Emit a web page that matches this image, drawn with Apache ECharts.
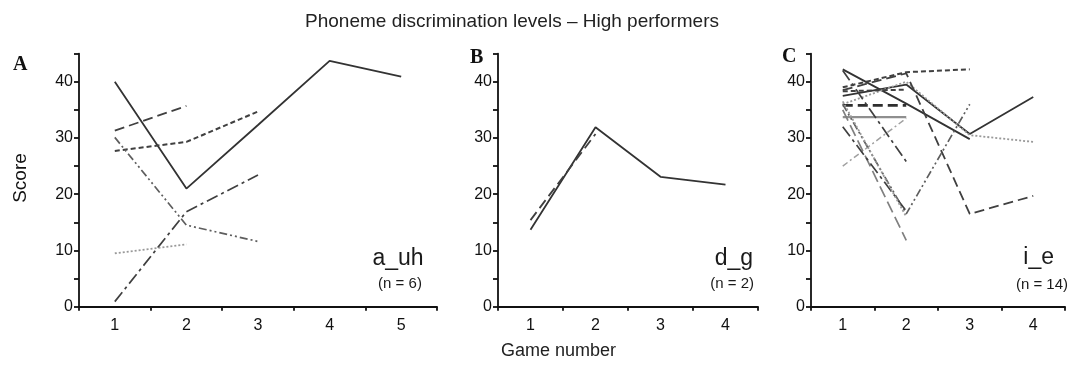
<!DOCTYPE html>
<html>
<head>
<meta charset="utf-8">
<script src="https://cdn.jsdelivr.net/npm/echarts@6/dist/echarts.min.js"></script>
<style>html,body{margin:0;padding:0;background:#fff}#c{width:1071px;height:366px}</style>
</head>
<body>
<div id="c"></div>
<script>
// ---- Data ----
const catsA = ['1', '2', '3', '4', '5'];
const catsB = ['1', '2', '3', '4'];
const catsC = ['1', '2', '3', '4'];
const yTicks = [0, 10, 20, 30, 40];

// Panel A: a_uh (n = 6)
const a_solid     = [40.0, 21.0, 32.3, 43.7, 40.9];
const a_longDash  = [31.3, 35.7, null, null, null];
const a_shortDash = [27.7, 29.3, 34.7, null, null];
const a_dashDotDot= [30.1, 14.5, 11.6, null, null];
const a_dashDot   = [0.9, 16.9, 23.4, null, null];
const a_dotted    = [9.5, 11.1, null, null, null];

// Panel B: d_g (n = 2)
const b_solid  = [13.7, 31.9, 23.1, 21.7];
const b_dashed = [15.4, 30.7, null, null];

// Panel C: i_e (n = 14)
const c_solid1     = [42.2, 36.1, 29.8, null];
const c_solid2     = [37.5, 39.5, 30.7, 37.3];
const c_dottedLong = [36.0, 40.0, 30.5, 29.3];
const c_shortDash  = [39.0, 41.7, 42.2, null];
const c_thickDash  = [35.8, 35.8, null, null];
const c_solidGray  = [33.7, 33.7, null, null];
const c_dashDotUp  = [25.0, 33.5, null, null];
const c_longDash4  = [38.5, 41.5, 16.5, 19.7];
const c_dashDot26  = [42.0, 25.8, null, null];
const c_dashDotDot = [36.0, 16.5, 36.0, null];
const c_longGray   = [35.0, 11.8, null, null];
const c_dash17     = [32.0, 17.0, null, null];
const c_dotted16   = [36.5, 16.0, null, null];
const c_dash385    = [38.3, 38.6, null, null];

// ---- Styles ----
const ST = {
  solid:     {type: 'solid', color: '#333333', width: 1.8},
  solidGray: {type: 'solid', color: '#8f8f8f', width: 2.2},
  longDash:  {type: [10, 5], color: '#404040', width: 1.8},
  thickDash: {type: [10, 5], color: '#2e2e2e', width: 2.8},
  shortDash: {type: [5, 3], color: '#404040', width: 2},
  dashDotDot:{type: [8, 3, 2, 3, 2, 3], color: '#5e5e5e', width: 1.7},
  dashDot:   {type: [12, 4, 3, 4], color: '#404040', width: 1.7},
  dotted:    {type: [2, 2], color: '#999999', width: 1.8},
  grayDash:  {type: [12, 5], color: '#808080', width: 1.7},
  grayDashDot:{type: [6, 3, 2, 3], color: '#a0a0a0', width: 1.5}
};

function ser(idx, data, st) {
  return {
    type: 'line', xAxisIndex: idx, yAxisIndex: idx, data: data,
    symbol: 'none', connectNulls: false, silent: true, animation: false,
    lineStyle: Object.assign({}, st)
  };
}

const grids = [
  {left: 79, top: 53.6, width: 358, height: 253.1},
  {left: 498, top: 53.6, width: 260, height: 253.1},
  {left: 811, top: 53.6, width: 254, height: 253.1}
];
const cats = [catsA, catsB, catsC];

const sans = 'Liberation Sans, Arial, sans-serif';
const serif = 'Liberation Serif, Times New Roman, serif';
const axisLineStyle = {color: '#111', width: 1.8};
const xAxes = cats.map((c, i) => ({
  type: 'category', gridIndex: i, data: c, boundaryGap: true,
  axisLine: {lineStyle: axisLineStyle},
  axisTick: {show: true, length: 4, lineStyle: axisLineStyle},
  axisLabel: {color: '#111', fontSize: 16, fontFamily: sans, margin: 11},
  splitLine: {show: false}
}));
const yAxes = cats.map((c, i) => ({
  type: 'value', gridIndex: i, min: 0, max: 45, interval: 5,
  axisLine: {show: true, lineStyle: axisLineStyle},
  axisTick: {show: true, length: 5, lineStyle: axisLineStyle},
  axisLabel: {
    color: '#111', fontSize: 16, fontFamily: sans, margin: 6,
    formatter: v => (yTicks.indexOf(v) >= 0 ? String(v) : '')
  },
  splitLine: {show: false}
}));

const series = [
  ser(0, a_solid, ST.solid),
  ser(0, a_longDash, ST.longDash),
  ser(0, a_shortDash, ST.shortDash),
  ser(0, a_dashDotDot, ST.dashDotDot),
  ser(0, a_dashDot, ST.dashDot),
  ser(0, a_dotted, ST.dotted),

  ser(1, b_solid, ST.solid),
  ser(1, b_dashed, ST.longDash),

  ser(2, c_solid1, ST.solid),
  ser(2, c_solid2, ST.solid),
  ser(2, c_dottedLong, ST.dotted),
  ser(2, c_shortDash, ST.shortDash),
  ser(2, c_thickDash, ST.thickDash),
  ser(2, c_solidGray, ST.solidGray),
  ser(2, c_dashDotUp, ST.grayDashDot),
  ser(2, c_longDash4, ST.longDash),
  ser(2, c_dashDot26, ST.dashDot),
  ser(2, c_dashDotDot, ST.dashDotDot),
  ser(2, c_longGray, ST.grayDash),
  ser(2, c_dash17, ST.dashDot),
  ser(2, c_dotted16, ST.dotted),
  ser(2, c_dash385, ST.shortDash)
];

function txt(x, y, t, size, opts) {
  return {
    type: 'text', x: x, y: y, silent: true,
    style: Object.assign({text: t, fontSize: size, fontFamily: sans, fill: '#1a1a1a',
      textAlign: 'left', textVerticalAlign: 'middle'}, opts || {})
  };
}

const graphics = [
  txt(512, 22, 'Phoneme discrimination levels \u2013 High performers', 19, {textAlign: 'center', fill: '#222'}),
  txt(21, 178, 'Score', 19, {textAlign: 'center', fill: '#111'}),
  txt(501, 351, 'Game number', 18, {fill: '#222'}),
  txt(13, 65, 'A', 20, {fontFamily: serif, fontWeight: 'bold', fill: '#111'}),
  txt(470, 58, 'B', 20, {fontFamily: serif, fontWeight: 'bold', fill: '#111'}),
  txt(782, 57, 'C', 20, {fontFamily: serif, fontWeight: 'bold', fill: '#111'}),
  txt(398, 259, 'a_uh', 23, {textAlign: 'center'}),
  txt(400, 284, '(n = 6)', 15, {textAlign: 'center'}),
  txt(753, 259, 'd_g', 23, {textAlign: 'right'}),
  txt(754, 284, '(n = 2)', 15, {textAlign: 'right'}),
  txt(1054, 258, 'i_e', 23, {textAlign: 'right'}),
  txt(1068, 285, '(n = 14)', 15, {textAlign: 'right'})
];
graphics[1].rotation = Math.PI / 2;

const chart = echarts.init(document.getElementById('c'), null, {renderer: 'canvas'});
chart.setOption({
  animation: false,
  backgroundColor: '#ffffff',
  grid: grids,
  xAxis: xAxes,
  yAxis: yAxes,
  series: series,
  graphic: graphics
});
</script>
</body>
</html>
